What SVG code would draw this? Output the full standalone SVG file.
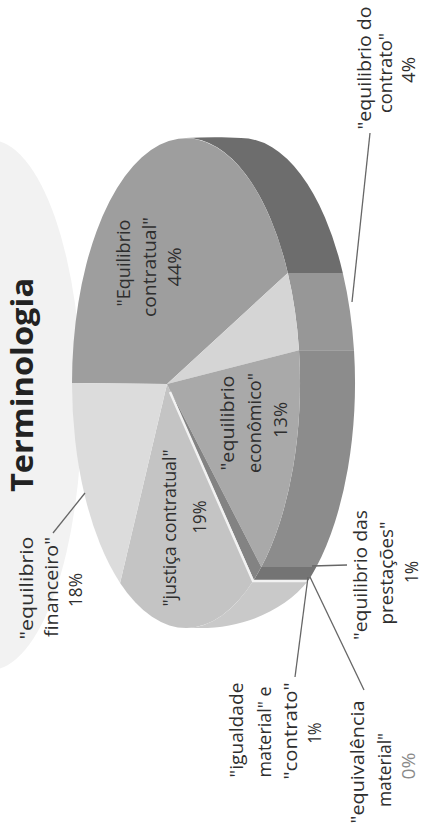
<svg xmlns="http://www.w3.org/2000/svg" width="427" height="827" viewBox="0 0 427 827">
<style>
.lbl{font-family:"Open Sans","Liberation Sans",sans-serif;font-size:18px;fill:#2e2e2e;text-anchor:middle}
.title{font-family:"Open Sans","Liberation Sans",sans-serif;font-size:31px;font-weight:bold;fill:#222222;text-anchor:middle}
.lead{fill:none;stroke:#666666;stroke-width:1.3}
.edge{fill:none;stroke:#f2f2f2;stroke-width:2.5}
</style>
<rect width="427" height="827" fill="#ffffff"/>
<ellipse id="backdrop" cx="-10" cy="405" rx="92" ry="265" fill="#f2f2f2"/>

<g id="title">
<text class="title" transform="translate(33,385) rotate(-90)" textLength="214" lengthAdjust="spacingAndGlyphs">Terminologia</text>
</g>

<g id="slice-contratual">
<path d="M186,138 C205,137 225,137 241,138 A114 245 0 0 1 342.8,272.9 L287.8,272.9 A114 245 0 0 0 186,138 Z" fill="#6d6d6d"/>
<path d="M167,384 L72,383 A114 245 0 0 1 287.8,272.9 Z" fill="#9e9e9e"/>
<text class="lbl" transform="translate(130,263) rotate(-90)" textLength="87" lengthAdjust="spacingAndGlyphs">"Equilibrio</text>
<text class="lbl" transform="translate(156,267) rotate(-90)" textLength="100" lengthAdjust="spacingAndGlyphs">contratual"</text>
<text class="lbl" transform="translate(181,267) rotate(-90)" textLength="39" lengthAdjust="spacingAndGlyphs">44%</text>
</g>

<g id="slice-do-contrato">
<path d="M287.8,272.9 A114 245 0 0 1 299,350.2 L354,350.2 A114 245 0 0 0 342.8,272.9 Z" fill="#979797"/>
<path d="M167,384 L287.8,272.9 A114 245 0 0 1 299,350.2 Z" fill="#d5d5d5"/>
<text class="lbl" transform="translate(371,68) rotate(-90)" textLength="123" lengthAdjust="spacingAndGlyphs">"equilibrio do</text>
<text class="lbl" transform="translate(392,73) rotate(-90)" textLength="80" lengthAdjust="spacingAndGlyphs">contrato"</text>
<text class="lbl" transform="translate(415,70) rotate(-90)" textLength="26" lengthAdjust="spacingAndGlyphs">4%</text>
</g>

<g id="slice-economico">
<path d="M299,350.2 A114 245 0 0 1 261.3,567.1 L316.3,567.1 A114 245 0 0 0 354,350.2 Z" fill="#8c8c8c"/>
<path d="M167,384 L299,350.2 A114 245 0 0 1 261.3,567.1 Z" fill="#a9a9a9"/>
<text class="lbl" transform="translate(234,423) rotate(-90)" textLength="95" lengthAdjust="spacingAndGlyphs">"equilibrio</text>
<text class="lbl" transform="translate(261,423) rotate(-90)" textLength="100" lengthAdjust="spacingAndGlyphs">econômico"</text>
<text class="lbl" transform="translate(287,420) rotate(-90)" textLength="36" lengthAdjust="spacingAndGlyphs">13%</text>
</g>

<g id="slice-pequenas">
<path d="M261.3,567.1 A114 245 0 0 1 253.8,580 L308.8,580 A114 245 0 0 0 316.3,567.1 Z" fill="#747474"/>
<path d="M167,384 L261.3,567.1 A114 245 0 0 1 253.8,580 Z" fill="#838383"/>
</g>

<g id="slice-justica">
<path d="M253.8,580 A114 245 0 0 1 186,628 L200,628 C245,628 285,610 308.8,580 Z" fill="#c9c9c9"/>
<path d="M167,384 L253.8,580 A114 245 0 0 1 120.1,582.9 Z" fill="#c4c4c4"/>
<path class="edge" d="M170,392 L253,581 L308,581"/>
<text class="lbl" transform="translate(176,528) rotate(-90)" textLength="157" lengthAdjust="spacingAndGlyphs">"justiça contratual"</text>
<text class="lbl" transform="translate(206,517) rotate(-90)" textLength="33" lengthAdjust="spacingAndGlyphs">19%</text>
</g>

<g id="slice-financeiro">
<path d="M167,384 L120.1,582.9 A114 245 0 0 1 72,383 Z" fill="#dcdcdc"/>
<text class="lbl" transform="translate(33,588) rotate(-90)" textLength="103" lengthAdjust="spacingAndGlyphs">"equilibrio</text>
<text class="lbl" transform="translate(58,587) rotate(-90)" textLength="100" lengthAdjust="spacingAndGlyphs">financeiro"</text>
<text class="lbl" transform="translate(82,590) rotate(-90)" textLength="34" lengthAdjust="spacingAndGlyphs">18%</text>
</g>

<g id="label-igualdade">
<text class="lbl" transform="translate(243,730) rotate(-90)" textLength="95" lengthAdjust="spacingAndGlyphs">"igualdade</text>
<text class="lbl" transform="translate(271,732) rotate(-90)" textLength="91" lengthAdjust="spacingAndGlyphs">material" e</text>
<text class="lbl" transform="translate(297,731) rotate(-90)" textLength="97" lengthAdjust="spacingAndGlyphs">"contrato"</text>
<text class="lbl" transform="translate(321,733) rotate(-90)" textLength="21" lengthAdjust="spacingAndGlyphs">1%</text>
</g>

<g id="label-equivalencia">
<text class="lbl" transform="translate(364,762) rotate(-90)" textLength="123" lengthAdjust="spacingAndGlyphs">"equivalência</text>
<text class="lbl" transform="translate(391,770) rotate(-90)" textLength="74" lengthAdjust="spacingAndGlyphs">material"</text>
<text class="lbl" transform="translate(415,766) rotate(-90)" textLength="27" lengthAdjust="spacingAndGlyphs" style="fill:#8a8a8a">0%</text>
</g>

<g id="label-prestacoes">
<text class="lbl" transform="translate(367,575) rotate(-90)" textLength="130" lengthAdjust="spacingAndGlyphs">"equilibrio das</text>
<text class="lbl" transform="translate(393,573) rotate(-90)" textLength="103" lengthAdjust="spacingAndGlyphs">prestações"</text>
<text class="lbl" transform="translate(418,572) rotate(-90)" textLength="22" lengthAdjust="spacingAndGlyphs">1%</text>
</g>

<g id="connectors">
<line class="lead" x1="370" y1="133" x2="352" y2="302"/>
<line class="lead" x1="53" y1="533" x2="85" y2="493"/>
<line class="lead" x1="312" y1="566" x2="347" y2="565"/>
<line class="lead" x1="308" y1="577" x2="295" y2="677"/>
<line class="lead" x1="310" y1="577" x2="364" y2="690"/>
</g>
</svg>
